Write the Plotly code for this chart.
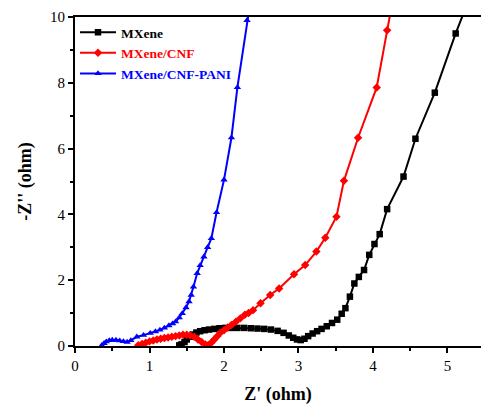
import plotly.graph_objects as go

mx_x = [1.40, 1.43, 1.47, 1.50, 1.54, 1.58, 1.63, 1.68, 1.74, 1.80, 1.87, 1.94, 2.02, 2.10, 2.18, 2.27,
        2.36, 2.45, 2.54, 2.63, 2.72, 2.80, 2.87, 2.93, 2.98, 3.03, 3.08, 3.13, 3.19, 3.25, 3.31, 3.38,
        3.45, 3.52, 3.58, 3.63, 3.69, 3.75, 3.81, 3.88, 3.95, 4.02, 4.09, 4.19, 4.41, 4.57, 4.83, 5.11, 5.30]
mx_y = [0.02, 0.05, 0.12, 0.20, 0.28, 0.35, 0.41, 0.45, 0.48, 0.50, 0.52, 0.54, 0.55, 0.55, 0.55, 0.55,
        0.54, 0.53, 0.52, 0.50, 0.46, 0.40, 0.32, 0.25, 0.20, 0.18, 0.22, 0.30, 0.38, 0.45, 0.52, 0.60,
        0.70, 0.80, 0.98, 1.15, 1.50, 1.90, 2.10, 2.31, 2.77, 3.10, 3.40, 4.16, 5.15, 6.30, 7.70, 9.50, 10.60]

cnf_x = [0.85, 0.90, 0.95, 1.00, 1.05, 1.10, 1.15, 1.20, 1.25, 1.30, 1.35, 1.40, 1.45, 1.50, 1.55, 1.60,
         1.65, 1.70, 1.75, 1.79, 1.83, 1.87, 1.91, 1.95, 2.00, 2.05, 2.10, 2.16, 2.22, 2.28, 2.33, 2.39,
         2.49, 2.62, 2.74, 2.94, 3.09, 3.24, 3.36, 3.51, 3.61, 3.80, 4.05, 4.19, 4.24]
cnf_y = [0.02, 0.06, 0.10, 0.14, 0.17, 0.20, 0.22, 0.24, 0.26, 0.28, 0.30, 0.32, 0.34, 0.34, 0.32, 0.28,
         0.20, 0.12, 0.05, 0.03, 0.10, 0.20, 0.30, 0.40, 0.48, 0.56, 0.64, 0.74, 0.84, 0.95, 1.00, 1.09,
         1.30, 1.55, 1.75, 2.18, 2.46, 2.87, 3.29, 3.93, 5.02, 6.33, 7.86, 9.60, 10.20]

pani_x = [0.36, 0.39, 0.42, 0.46, 0.50, 0.55, 0.60, 0.65, 0.70, 0.75, 0.83, 0.92, 1.01, 1.08, 1.14, 1.20,
          1.26, 1.31, 1.35, 1.40, 1.44, 1.49, 1.53, 1.56, 1.59, 1.64, 1.68, 1.73, 1.78, 1.83, 1.90, 2.00,
          2.10, 2.18, 2.31, 2.35]
pani_y = [0.02, 0.08, 0.13, 0.17, 0.18, 0.18, 0.16, 0.14, 0.12, 0.17, 0.28, 0.33, 0.39, 0.44, 0.49, 0.55,
          0.62, 0.68, 0.74, 0.86, 0.99, 1.17, 1.35, 1.55, 1.80, 2.21, 2.45, 2.71, 3.00, 3.27, 4.06, 5.05,
          6.33, 7.86, 9.90, 10.40]

x_ticks = [0, 1, 2, 3, 4, 5]
y_ticks = [0, 2, 4, 6, 8, 10]

FONT = "Liberation Serif, Times New Roman, serif"

fig = go.Figure()
series = [
    ("MXene", "black", "square", mx_x, mx_y),
    ("MXene/CNF", "red", "diamond", cnf_x, cnf_y),
    ("MXene/CNF-PANI", "blue", "triangle-up", pani_x, pani_y),
]
for name, col, sym, xs, ys in series:
    fig.add_trace(go.Scatter(
        x=xs, y=ys, mode="lines+markers",
        name=f"<span style='color:{col}'>{name}</span>",
        line=dict(color=col, width=2),
        marker=dict(color=col, symbol=sym, size=6.5),
    ))

fig.update_layout(
    width=481, height=406,
    margin=dict(l=75, r=0, t=17, b=60, autoexpand=False),
    paper_bgcolor="white", plot_bgcolor="white",
    font=dict(family=FONT, color="black", size=15),
    showlegend=True,
    legend=dict(x=0.0, y=1.0, xanchor="left", yanchor="top",
                bgcolor="rgba(0,0,0,0)", font=dict(family=FONT, size=13.5, weight="bold"),
                itemwidth=36, tracegroupgap=0),
)
fig.update_xaxes(
    range=[0, 5.45], tickvals=x_ticks, ticktext=[str(v) for v in x_ticks],
    automargin=False,
    showgrid=False, zeroline=False, showline=True, linecolor="black", linewidth=2,
    mirror=True, ticks="outside", ticklen=5, tickwidth=1.5, tickcolor="black",
    minor=dict(dtick=0.5, ticks="outside", ticklen=3, tickcolor="black"),
    title=dict(text="<b>Z' (ohm)</b>", font=dict(size=18, family=FONT), standoff=14),
    tickfont=dict(size=15, family=FONT),
)
fig.update_yaxes(
    range=[0, 10], tickvals=y_ticks, ticktext=[str(v) for v in y_ticks],
    automargin=False,
    showgrid=False, zeroline=False, showline=True, linecolor="black", linewidth=2,
    mirror=False, ticks="outside", ticklen=5, tickwidth=1.5, tickcolor="black",
    minor=dict(dtick=1, ticks="outside", ticklen=3, tickcolor="black"),
    title=dict(text="<b>-Z'' (ohm)</b>", font=dict(size=18, family=FONT), standoff=14),
    tickfont=dict(size=15, family=FONT),
)

fig.write_html("out.html", config={"displayModeBar": False},
               post_script="document.body.style.margin='0px';")
